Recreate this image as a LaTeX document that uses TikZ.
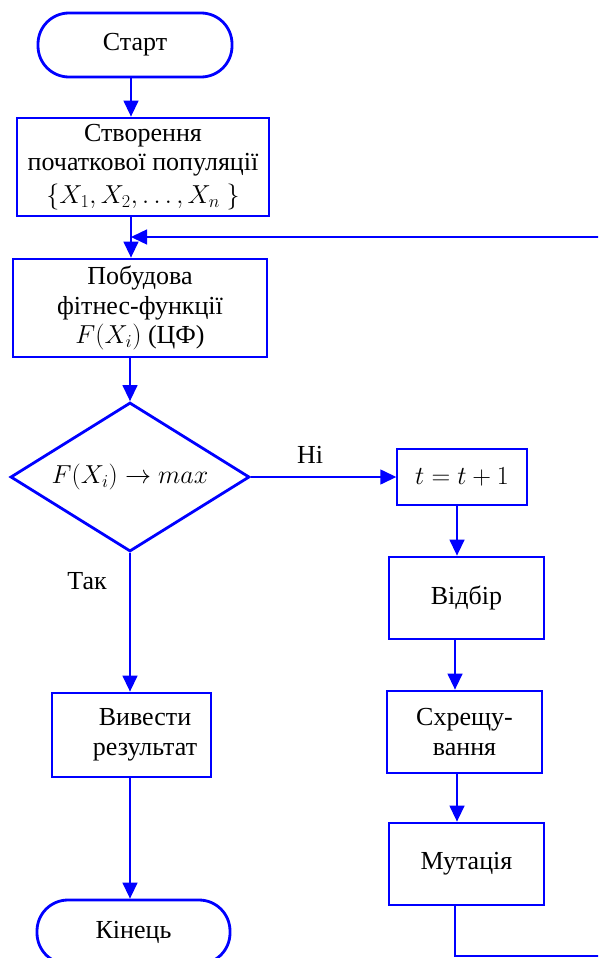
\RequirePackage{fix-cm}
\documentclass[tikz,border=0pt]{standalone}
\usepackage{fontspec}
\setmainfont{Liberation Serif}
\usetikzlibrary{arrows.meta,shapes.geometric}
\definecolor{fcblue}{RGB}{0,0,255}
\tikzset{
  every node/.style={font=\fontsize{26}{29.5}\selectfont},
  proc/.style={draw=fcblue, line width=2.8pt, rectangle, align=center, inner sep=0pt},
  thinproc/.style={draw=fcblue, line width=1.4pt, rectangle, align=center, inner sep=0pt},
  term/.style={draw=fcblue, line width=2.8pt, rectangle, rounded corners=31pt, inner sep=0pt},
  decision/.style={draw=fcblue, line width=2.8pt, diamond, aspect=1.6, inner sep=0pt},
  conn/.style={draw=fcblue, line width=1.4pt},
  arr/.style={conn, -{Triangle[length=16pt,width=15pt]}},
  lbl/.style={inner sep=0pt, align=center}
}
\begin{document}
\begin{tikzpicture}[x=1pt,y=-1pt]
\clip (0,0) rectangle (598,958);
\coordinate (mainx) at (131,0);
\coordinate (colA) at (457,0);
\coordinate (colB) at (455,0);
\coordinate (fbR) at (600,237);
\coordinate (botR) at (600,956);

\node[term, minimum width=194pt, minimum height=64pt] (start) at (135,45) {Старт};
\node[proc, minimum width=252pt, minimum height=98pt] (b1) at (143,167) {Створення\\початкової популяції\\[3pt]$\{X_1,X_2,\dots,X_n\ \}$};
\node[proc, minimum width=254pt, minimum height=98pt] (b2) at (140,308) {Побудова\\фітнес-функції\\$F(X_i)$ (ЦФ)};
\node[decision, minimum width=239pt, minimum height=149pt] (dec) at (130,477) {$F(X_i)\rightarrow max$};
\node[thinproc, minimum width=130pt, minimum height=56pt] (inc) at (462,477) {$t=t+1$};
\node[proc, minimum width=155pt, minimum height=82pt] (sel) at (466.5,598) {Відбір};
\node[proc, minimum width=155pt, minimum height=82pt] (cross) at (464.5,732) {Схрещу-\\вання};
\node[proc, minimum width=155pt, minimum height=82pt] (mut) at (466.5,864) {Мутація};
\node[proc, minimum width=159pt, minimum height=84pt] (out) at (131.5,735) {};
\node[lbl] (outtxt) at (145,735) {Вивести\\результат};
\node[term, minimum width=193pt, minimum height=64pt] (end) at (133.5,932) {Кінець};
\node[lbl] (no) at (310,455) {Ні};
\node[lbl] (yes) at (87,581) {Так};

\draw[arr] (start.south -| mainx) -- (b1.north -| mainx);
\draw[arr] (b1.south -| mainx) -- (b2.north -| mainx);
\draw[arr] (fbR) -- (fbR -| mainx);
\draw[arr] (b2.south -| dec.north) -- (dec.north);
\draw[arr] (dec.east) -- (inc.west);
\draw[arr] (dec.south) -- (out.north -| dec.south);
\draw[arr] (out.south -| dec.south) -- (end.north -| dec.south);
\draw[arr] (inc.south -| colA) -- (sel.north -| colA);
\draw[arr] (sel.south -| colB) -- (cross.north -| colB);
\draw[arr] (cross.south -| colA) -- (mut.north -| colA);
\draw[conn] (mut.south -| colB) -- (colB |- botR) -- (botR);
\end{tikzpicture}
\end{document}
